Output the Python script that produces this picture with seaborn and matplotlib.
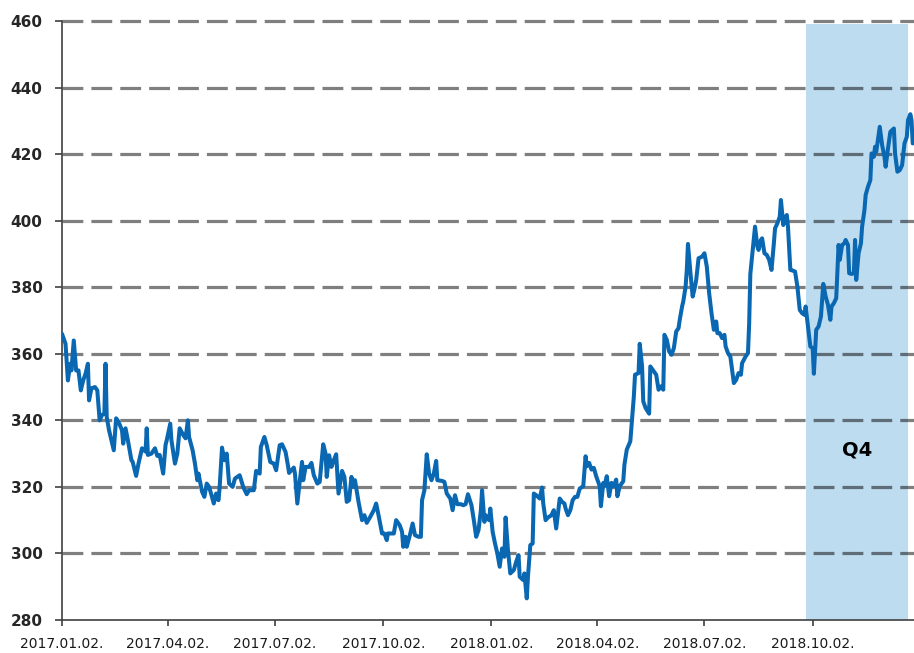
import pandas as pd
import matplotlib
matplotlib.use("Agg")
import matplotlib.pyplot as plt
import matplotlib.dates as mdates
import seaborn as sns

# days counted from the first trading day
start = "2017-01-02"
days = [0, 3, 5, 7, 8, 10, 12, 14, 16, 18, 20, 22, 23, 25, 28, 30, 32, 34, 36, 37,
        38, 40, 44, 46, 48, 51, 52, 54, 56, 59, 60, 63, 65, 68, 71, 72, 73, 76, 79, 81,
        83, 86, 88, 89, 92, 93, 96, 98, 100, 103, 105, 107, 108, 111, 113, 115, 116, 119, 121, 123,
        125, 127, 129, 131, 133, 134, 136, 138, 140, 142, 145, 147, 151, 154, 157, 159, 163, 165, 168, 169,
        172, 174, 177, 180, 182, 185, 187, 190, 192, 193, 197, 198, 200, 202, 204, 205, 207, 210, 212, 214,
        217, 219, 222, 224, 225, 227, 229, 231, 233, 235, 238, 240, 242, 244, 246, 248, 249, 252, 255, 257,
        259, 262, 265, 267, 269, 272, 274, 276, 277, 282, 284, 287, 289, 290, 292, 293, 296, 298, 300, 303,
        305, 306, 308, 310, 312, 314, 316, 318, 319, 323, 325, 327, 330, 332, 334, 336, 339, 341, 343, 345,
        348, 350, 352, 354, 356, 357, 359, 360, 363, 364, 366, 368, 370, 372, 374, 376, 377, 379, 381, 384,
        386, 388, 389, 392, 393, 395, 396, 398, 400, 401, 403, 406, 408, 409, 411, 413, 416, 418, 420, 423,
        425, 427, 428, 430, 432, 434, 436, 438, 440, 443, 445, 446, 448, 450, 452, 454, 457, 458, 460, 461,
        463, 465, 467, 469, 471, 472, 474, 477, 478, 480, 483, 484, 486, 487, 490, 491, 493, 494, 496, 499,
        500, 503, 505, 507, 509, 511, 512, 514, 516, 518, 520, 522, 524, 525, 527, 528, 530, 531, 532, 534,
        536, 538, 539, 541, 544, 546, 548, 550, 552, 554, 556, 557, 559, 561, 563, 564, 566, 568, 570, 571,
        573, 575, 577, 578, 581, 583, 584, 585, 587, 589, 591, 592, 594, 595, 597, 599, 601, 603, 605, 606,
        608, 610, 611, 613, 615, 616, 617, 619, 621, 623, 625, 627, 629, 631, 632, 634, 636, 638, 639, 641,
        643, 645, 647, 649, 651, 653, 654, 656, 658, 660, 661, 663, 665, 666, 668, 669, 671, 673, 674, 675,
        677, 679, 680, 682, 683, 685, 687, 688, 690, 691, 692, 695, 697, 699, 700, 702, 704, 707, 708, 710,
        712, 714, 716, 718, 719, 721, 722, 723]
values = [366, 363, 352, 357, 355, 364, 355, 355, 349, 352, 354, 357, 346, 349.6, 350, 349, 340, 341.6, 342, 357,
          341, 337, 331, 340.6, 339.6, 337, 333, 337.6, 334, 328, 327.6, 323.3, 327, 331.6, 330.6, 337.6, 329.6, 330, 331.6, 329.3,
          329.6, 324, 332.6, 334, 339, 334, 327, 330, 337.6, 335.6, 334.6, 340, 335, 331, 327, 322, 324, 318.6, 317, 321,
          320, 317.6, 315, 318, 316, 320, 331.8, 328, 330, 321, 320, 322.5, 323.5, 320, 317.8, 319, 319, 324.8, 324, 332,
          335, 332.5, 327.5, 327, 325, 332.5, 332.8, 330.5, 326.5, 324.2, 325.8, 324, 315, 321.5, 327.5, 322, 326, 326, 327.2, 323.5,
          321, 321.5, 332.8, 330, 323, 329.5, 326, 328, 329.8, 318, 324.8, 323, 315.5, 316, 323, 320, 322, 315.5, 310, 311.5,
          309.2, 311, 313, 315, 311.5, 306, 306, 304, 306, 306, 310, 308.5, 306.5, 302, 305, 302, 306, 309, 305.5, 305,
          305, 316, 319, 329.8, 324, 322, 324, 327.8, 322, 321.8, 321.5, 318, 316.5, 313, 317.5, 314.8, 314.8, 314.5, 314.8, 317.8,
          314.5, 310, 305, 307, 313, 319, 309.5, 311.5, 310, 313.5, 306.5, 303, 300, 296, 301.5, 299, 310.8, 301, 294, 295,
          297.5, 299.5, 293, 292, 294, 286.5, 293, 302.5, 303, 318, 317.5, 316.5, 319.8, 315, 310, 310.8, 311.5, 313, 307.5, 316.5,
          315.5, 315, 313.5, 311.5, 313, 316, 317, 317, 319.5, 320.2, 329.2, 326.2, 327.2, 325.2, 325.7, 323.2, 320.2, 314.2, 321.2, 320.2,
          323.2, 317.2, 321.2, 320.2, 322.2, 317.2, 320.2, 321.7, 326.7, 331.2, 333.7, 338.2, 347.2, 353.7, 354.2, 363, 356.2, 345.7, 343.7, 342,
          356.2, 354.7, 353.7, 349.2, 350.2, 349.2, 365.7, 364.2, 360.7, 359.7, 361.7, 366.7, 367.7, 370.2, 374.2, 375.7, 380.2, 385.2, 393, 384.7,
          377.2, 380.2, 382.2, 388.7, 389.2, 390.2, 386.2, 378.2, 372.2, 367.2, 369.7, 366.2, 366.2, 364.7, 365.7, 362.2, 360.2, 359.2, 353.7, 351.2,
          352.2, 354.2, 353.7, 357.2, 359.2, 360.2, 369, 384, 391.2, 398.2, 392.2, 391.2, 394.2, 394.7, 390.2, 389.7, 388.2, 385.2, 393.2, 397.7,
          399.2, 401.2, 406.2, 398.7, 401.2, 401.7, 398.2, 385.2, 385, 384.7, 380.2, 373.2, 372.2, 371.7, 374.2, 368.2, 362.2, 361.7, 354, 367.2,
          368.2, 371.2, 381, 377.2, 374.7, 370.2, 374.2, 375.2, 376.7, 392.7, 388.2, 392.7, 393.2, 394.2, 392.7, 384.2, 384, 384.2, 394.2, 382.2,
          390.2, 393.2, 398.2, 403.2, 407.7, 410.2, 412.2, 420.2, 419.2, 422.2, 420.7, 428.2, 422.7, 419.2, 416.2, 421.7, 426.7, 427.7, 420.2, 414.7,
          415.2, 416.7, 423.2, 425.2, 430.2, 432, 430.2, 423.2]

tick_dates = ["2017-01-02", "2017-04-02", "2017-07-02", "2017-10-02",
              "2018-01-02", "2018-04-02", "2018-07-02", "2018-10-02"]
y_ticks = [280, 300, 320, 340, 360, 380, 400, 420, 440, 460]
q4_start = "2018-09-26"
q4_end = "2018-12-22"
q4_label = "Q4"

df = pd.DataFrame({
    "date": pd.Timestamp(start) + pd.to_timedelta(days, unit="D"),
    "value": values,
})

sns.set_style("ticks")
plt.rcParams["font.family"] = ["DejaVu Sans"]
plt.rcParams["lines.scale_dashes"] = False

fig = plt.figure(figsize=(9.14, 6.53), dpi=100)
ax = fig.add_axes([62 / 914, 33 / 653, 852 / 914, 599 / 653])

# shaded quarter stops a hair below the top gridline, as in the original
ax.axvspan(pd.Timestamp(q4_start), pd.Timestamp(q4_end), ymax=0.995,
           color="#bddcf0", lw=0, zorder=0.2)

sns.lineplot(data=df, x="date", y="value", ax=ax, color="#0a67b2", linewidth=2.9, zorder=3)

ax.set_ylim(280, 460)
ax.set_xlim(pd.Timestamp(start), pd.Timestamp(start) + pd.Timedelta(days=724.1))
ax.set_yticks(y_ticks)
ax.set_xticks(pd.to_datetime(tick_dates))
ax.xaxis.set_major_formatter(mdates.DateFormatter("%Y.%m.%d."))

ax.set_axisbelow(True)
ax.yaxis.grid(True, color="black", alpha=0.5, linewidth=2.3, linestyle=(0, (15, 5.8)))
for gl in ax.get_ygridlines():
    gl.set_clip_on(False)
ax.get_ygridlines()[0].set_visible(False)

for side in ["top", "right"]:
    ax.spines[side].set_visible(False)
for side in ["left", "bottom"]:
    ax.spines[side].set_color("#404040")
    ax.spines[side].set_linewidth(1.2)

ax.tick_params(axis="y", length=5, width=1.2, color="#404040", pad=9, labelsize=11)
ax.tick_params(axis="x", length=4, width=1.2, color="#404040", pad=8, labelsize=10, labelcolor="#1a1a1a")
for lbl in ax.get_yticklabels():
    lbl.set_fontweight("bold")

ax.text(pd.Timestamp("2018-11-09"), 331, q4_label, fontsize=14, fontweight="bold",
        ha="center", va="center", color="black")

ax.set_xlabel("")
ax.set_ylabel("")

fig.savefig("out.png", dpi=100)
